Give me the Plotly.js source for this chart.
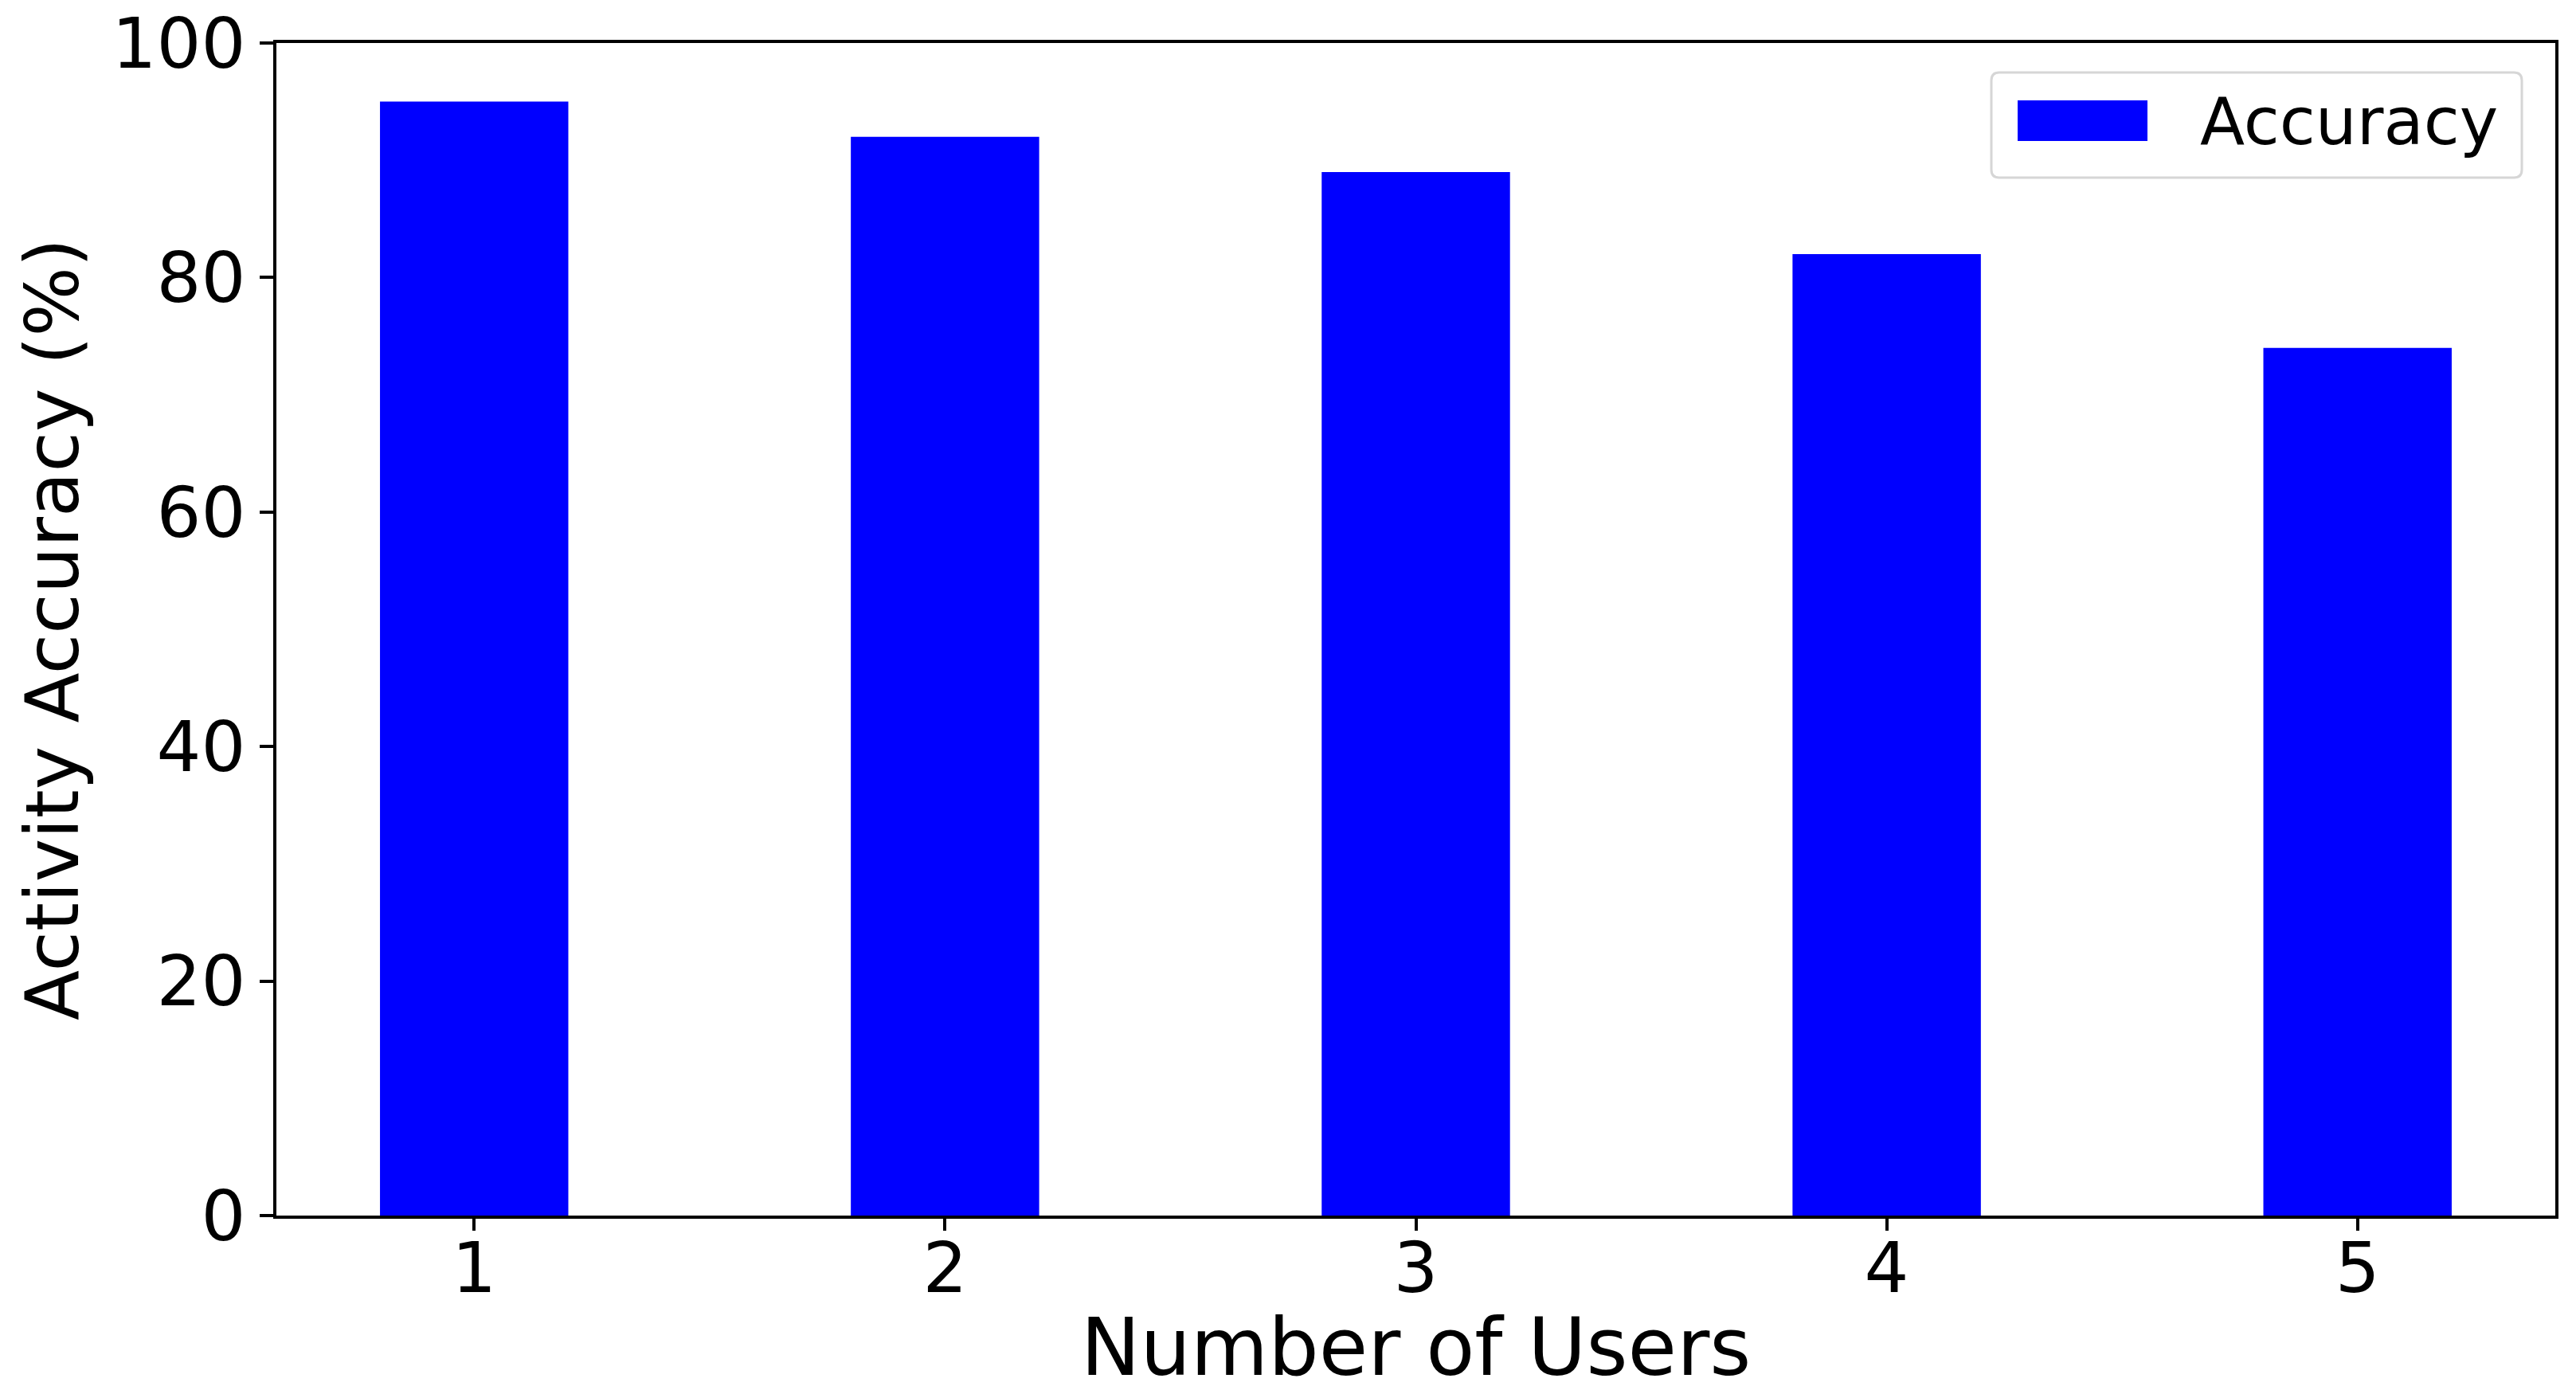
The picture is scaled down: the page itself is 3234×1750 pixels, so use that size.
<!DOCTYPE html>
<html>
<head>
<meta charset="utf-8">
<script src="https://cdn.plot.ly/plotly-3.0.1.min.js"></script>
<style>html,body{margin:0;padding:0;background:#fff;}#chart{width:3234px;height:1750px;}</style>
</head>
<body>
<div id="chart"></div>
<script>
const users = [1, 2, 3, 4, 5];
const accuracy = [95, 92, 89, 82, 74];
const seriesName = "Accuracy";
const xTitle = "Number of Users";
const yTitle = "Activity Accuracy (%)";
const yTicks = [0, 20, 40, 60, 80, 100];

const W = 3234, H = 1750;
const mL = 347, mR = 26, mT = 54, mB = 224;
const pw = W - mL - mR, ph = H - mT - mB;
const px = v => (v - mL) / pw;
const py = v => (H - mB - v) / ph;

// custom legend geometry (pixels)
const lg = {x0: 2500, x1: 3166, y0: 91, y1: 223, r: 10};
function roundedRect(b) {
  const rx = b.r / pw, ry = b.r / ph;
  const X0 = px(b.x0), X1 = px(b.x1), Y0 = py(b.y0), Y1 = py(b.y1);
  return `M${X0 + rx},${Y0} L${X1 - rx},${Y0} Q${X1},${Y0} ${X1},${Y0 - ry} ` +
         `L${X1},${Y1 + ry} Q${X1},${Y1} ${X1 - rx},${Y1} L${X0 + rx},${Y1} ` +
         `Q${X0},${Y1} ${X0},${Y1 + ry} L${X0},${Y0 - ry} Q${X0},${Y0} ${X0 + rx},${Y0} Z`;
}

const font = "DejaVu Sans, Liberation Sans, sans-serif";

const trace = {
  type: "bar",
  x: users,
  y: accuracy,
  name: seriesName,
  width: 0.4,
  marker: {color: "#0000ff", line: {width: 0}},
  showlegend: false
};

const layout = {
  width: W, height: H,
  margin: {l: mL, r: mR, t: mT, b: mB, pad: 0},
  paper_bgcolor: "#ffffff",
  plot_bgcolor: "#ffffff",
  font: {family: font, color: "#000000", size: 88},
  xaxis: {
    range: [0.58, 5.42],
    tickmode: "array", tickvals: users, ticktext: users.map(String),
    ticks: "outside", ticklen: 15, tickwidth: 4, tickcolor: "#000",
    ticklabelstandoff: -29,
    showline: true, linewidth: 4, linecolor: "#000", mirror: true,
    showgrid: false, zeroline: false,
    tickfont: {family: font, size: 88, color: "#000"},
    title: {text: xTitle, font: {family: font, size: 100, color: "#000"}, standoff: 20},
    automargin: false
  },
  yaxis: {
    range: [0, 100],
    tickmode: "array", tickvals: yTicks, ticktext: yTicks.map(String),
    ticks: "outside", ticklen: 17, tickwidth: 4, tickcolor: "#000",
    showline: true, linewidth: 4, linecolor: "#000", mirror: true,
    showgrid: false, zeroline: false,
    tickfont: {family: font, size: 88, color: "#000"},
    title: {text: yTitle, font: {family: font, size: 92, color: "#000"}, standoff: 12},
    automargin: false
  },
  shapes: [
    {type: "path", xref: "paper", yref: "paper", path: roundedRect(lg),
     fillcolor: "rgba(255,255,255,0.8)", line: {color: "#d6d6d6", width: 3}},
    {type: "rect", xref: "paper", yref: "paper",
     x0: px(2533), x1: px(2696), y0: py(177), y1: py(126),
     fillcolor: "#0000ff", line: {width: 0}}
  ],
  annotations: [
    {xref: "paper", yref: "paper", x: px(2760), y: py(152), xanchor: "left", yanchor: "middle",
     text: seriesName, showarrow: false, font: {family: font, size: 82, color: "#000"}}
  ]
};

Plotly.newPlot("chart", [trace], layout, {displayModeBar: false, staticPlot: true});
</script>
</body>
</html>
